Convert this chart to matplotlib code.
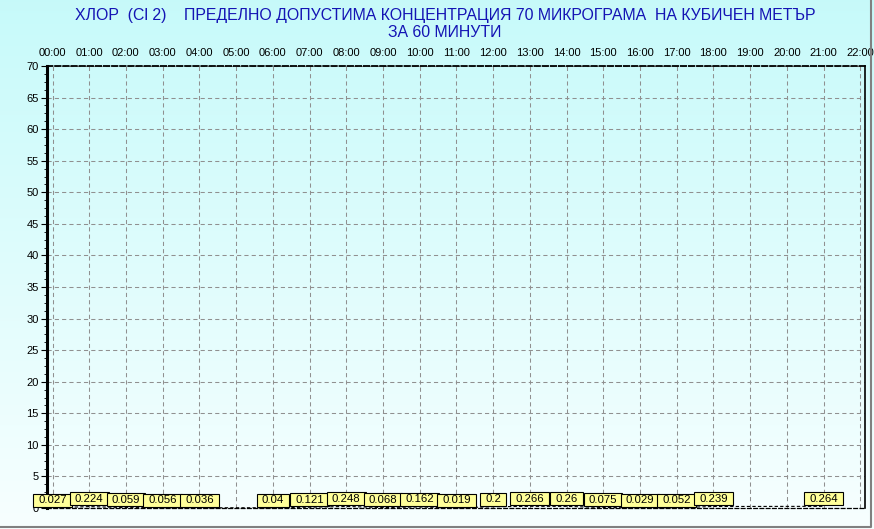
import numpy as np
import matplotlib.pyplot as plt
from matplotlib.path import Path
from matplotlib.lines import Line2D

plt.rcParams['font.family'] = ['Liberation Sans', 'DejaVu Sans']

hours = [0, 1, 2, 3, 4, 6, 7, 8, 9, 10, 11, 12, 13, 14, 15, 16, 17, 18, 21]
values = [0.027, 0.224, 0.059, 0.056, 0.036, 0.04, 0.121, 0.248, 0.068, 0.162,
          0.019, 0.2, 0.266, 0.26, 0.075, 0.029, 0.052, 0.239, 0.264]
tick_labels = ["%02d:00" % h for h in range(23)]

title = ("ХЛОР  (Cl 2)    ПРЕДЕЛНО ДОПУСТИМА КОНЦЕНТРАЦИЯ 70 МИКРОГРАМА  НА КУБИЧЕН МЕТЪР\n"
         "ЗА 60 МИНУТИ")

W, H = 874, 529
fig = plt.figure(figsize=(W / 100, H / 100), dpi=100)

# background gradient cyan -> white
bg = fig.add_axes([0, 0, 1, 1], zorder=-10)
grad = np.linspace(0, 1, 256).reshape(-1, 1)
top = np.array([0.78, 0.98, 0.98])
bot = np.array([0.97, 1.0, 1.0])
img = top + (bot - top) * grad[..., None]
bg.imshow(img, aspect='auto', extent=[0, 1, 0, 1])
bg.set_axis_off()
# grey frame at bottom and right
fig.lines.append(Line2D([0, 871 / W, 871 / W], [2 / H, 2 / H, 1], transform=fig.transFigure,
                        color='#808080', lw=1.5))

left, right, top_px, bottom_px = 47, 865, 66, 508
ax = fig.add_axes([left / W, 1 - bottom_px / H, (right - left) / W, (bottom_px - top_px) / H])
ax.patch.set_alpha(0)
ax.set_xlim(-0.15, 22.13)
ax.set_ylim(0, 70)

ax.set_xticks(range(23))
ax.set_xticklabels(tick_labels, fontsize=8)
ax.xaxis.tick_top()
ax.tick_params(axis='x', length=0, pad=6)
ax.set_yticks(range(0, 71, 5))
ax.set_yticks(np.arange(0, 70, 1.25), minor=True)
ax.tick_params(axis='y', labelsize=8, length=4, pad=2)
ax.tick_params(axis='y', which='minor', length=2)
ax.grid(True, color='#909090', linestyle=(0, (4, 3)), lw=0.75)

ax.spines['left'].set_linewidth(2.2)
ax.spines['right'].set_linewidth(1.2)
ax.spines['top'].set_linestyle((0, (3, 1.5)))
ax.spines['top'].set_linewidth(1.3)
ax.spines['bottom'].set_linestyle((0, (3, 2)))
ax.spines['bottom'].set_linewidth(0.9)

ax.plot(hours, values, color='black', lw=0.8, linestyle=(0, (3, 2)), clip_on=False)


def label_box(x0, y0, width, height, mutation_size):
    px, py = 5, 1.5
    x0, y0 = x0 - px, y0 - py
    x1, y1 = x0 + width + 2 * px, y0 + height + 2 * py
    return Path([(x0, y0), (x1, y0), (x1, y1), (x0, y1), (x0, y0)], closed=True)


for h, v in zip(hours, values):
    ax.annotate(str(v), (h, v), xytext=(0, 5.5), textcoords='offset points',
                ha='center', va='center', fontsize=8.2,
                bbox=dict(boxstyle=label_box, fc='#ffff99', ec='black', lw=0.8))

fig.text(445 / W, 1 - 24 / H, title, ha='center', va='center', fontsize=11.4,
         color='#1414b4', linespacing=1.1)

fig.savefig('out.png', dpi=100)
